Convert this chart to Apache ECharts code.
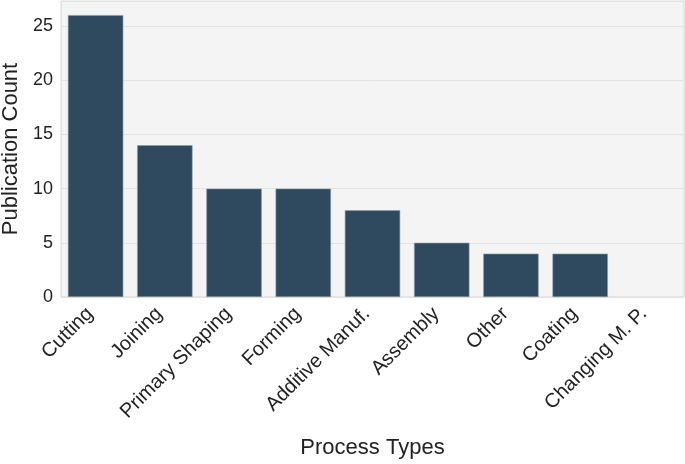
<!DOCTYPE html>
<html><head><meta charset="utf-8">
<script src="https://cdn.jsdelivr.net/npm/echarts@6/dist/echarts.min.js"></script>
<style>html,body{margin:0;padding:0;background:#fff}#c{width:685px;height:464px}</style>
</head><body><div id="c"></div>
<script>
const categories = ["Cutting","Joining","Primary Shaping","Forming","Additive Manuf.","Assembly","Other","Coating","Changing M. P."];
const counts = [26,14,10,10,8,5,4,4,0];
const yTicks = [0,5,10,15,20,25];

const chart = echarts.init(document.getElementById('c'), null, {renderer:'canvas'});
chart.setOption({
  animation:false,
  backgroundColor:'#ffffff',
  grid:{left:61,right:1,top:1,bottom:167,outerBoundsMode:'none',containLabel:false,
    backgroundColor:'#f4f4f4',show:true,borderColor:'#d8d8d8',borderWidth:1},
  xAxis:{
    type:'category', data:categories,
    name:'Process Types', nameLocation:'middle', nameGap:140,
    nameTextStyle:{fontFamily:'Liberation Sans',fontSize:22,color:'#222'},
    axisLine:{show:false}, axisTick:{show:false},
    axisLabel:{rotate:45,interval:0,fontFamily:'Liberation Sans',fontSize:20,color:'#222',margin:8,padding:[0,8,0,0]}
  },
  yAxis:{
    type:'value', min:0, max:27.3, interval:5,
    name:'Publication Count', nameLocation:'middle', nameGap:32,
    nameTextStyle:{fontFamily:'Liberation Sans',fontSize:22,color:'#222'},
    axisLine:{show:false}, axisTick:{show:false},
    axisLabel:{fontFamily:'Liberation Sans',fontSize:18,color:'#222',margin:8,
      formatter:v=>yTicks.indexOf(v)>=0?String(v):''},
    splitLine:{lineStyle:{color:'#e2e2e2',width:1}}
  },
  series:[{
    type:'bar', data:counts.map(v=>v===0?{value:0,itemStyle:{borderWidth:0}}:v), barWidth:'80%',
    itemStyle:{color:'#2f4a5e',borderColor:'#8a9aa6',borderWidth:0.6}
  }]
});
</script></body></html>
